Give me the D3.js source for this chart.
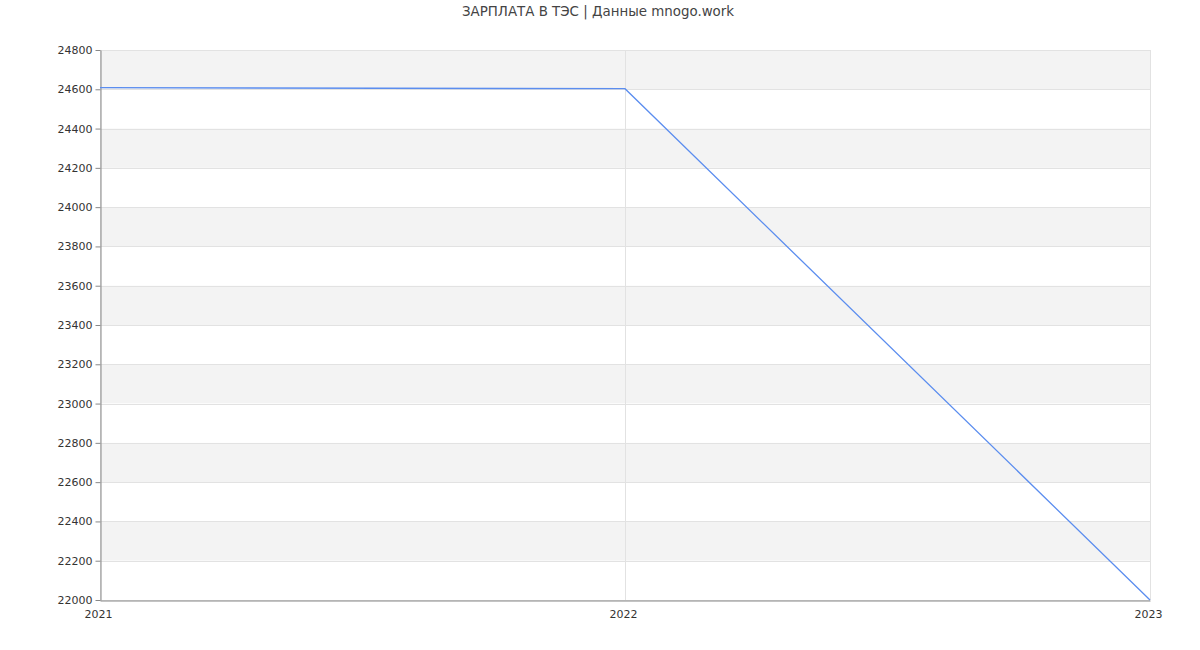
<!DOCTYPE html>
<html><head><meta charset="utf-8">
<script src="https://cdn.jsdelivr.net/npm/d3@7"></script>
<style>body{margin:0;background:#fff;font-family:"DejaVu Sans",sans-serif}</style>
</head><body><svg id="c" width="1200" height="650"></svg>
<script>
const years = [2021, 2022, 2023];
const salaries = [24608, 24603, 22000];
const yTicks = [22000,22200,22400,22600,22800,23000,23200,23400,23600,23800,24000,24200,24400,24600,24800];
const title = "ЗАРПЛАТА В ТЭС | Данные mnogo.work";

const svg = d3.select("#c");
const m = {l:100, r:50, t:50, b:50};
const W = 1200, H = 650;
const x = d3.scaleLinear().domain([2021, 2023]).range([m.l, W - m.r]);
const y = d3.scaleLinear().domain([22000, 24800]).range([H - m.b, m.t]);

const g = svg.append("g");
for (let i = 0; i < yTicks.length - 1; i++) {
  const hi = yTicks[yTicks.length - 1 - i], lo = yTicks[yTicks.length - 2 - i];
  g.append("rect").attr("x", m.l).attr("width", W - m.r - m.l)
    .attr("y", y(hi)).attr("height", y(lo) - y(hi))
    .attr("fill", i % 2 === 0 ? "#f3f3f3" : "#ffffff");
}
g.selectAll("line.h").data(yTicks).join("line")
  .attr("x1", m.l).attr("x2", W - m.r)
  .attr("y1", d => Math.round(y(d)) + 0.5).attr("y2", d => Math.round(y(d)) + 0.5)
  .attr("stroke", "#e2e2e2");
g.selectAll("line.v").data(years).join("line")
  .attr("y1", m.t).attr("y2", H - m.b)
  .attr("x1", d => Math.round(x(d)) + 0.5).attr("x2", d => Math.round(x(d)) + 0.5)
  .attr("stroke", "#e2e2e2");

const ya = svg.append("g").attr("transform", `translate(${m.l + 0.5},0)`)
  .call(d3.axisLeft(y).tickValues(yTicks).tickFormat(d3.format("d")).tickSize(5).tickSizeOuter(0));
ya.select(".domain").attr("stroke", "#888");
ya.selectAll(".tick line").attr("stroke", "#888");
ya.selectAll("text").attr("fill", "#333").style("font-size", "11px").style("font-family", "DejaVu Sans");

const xa = svg.append("g").attr("transform", `translate(0,${H - m.b + 0.5})`)
  .call(d3.axisBottom(x).tickValues(years).tickFormat(d3.format("d")).tickSize(0).tickSizeOuter(0).tickPadding(10));
xa.select(".domain").attr("stroke", "#888");
xa.selectAll("text").attr("fill", "#333").attr("dx", -2).style("font-size", "11px").style("font-family", "DejaVu Sans");

const data = years.map((d, i) => ({x: d, y: salaries[i]}));
svg.append("path").datum(data)
  .attr("fill", "none").attr("stroke", "#5b8def").attr("stroke-width", 1.3)
  .attr("d", d3.line().x(d => x(d.x)).y(d => y(d.y)));

svg.append("text").attr("x", 598).attr("y", 16).attr("text-anchor", "middle")
  .attr("fill", "#444").style("font-size", "13.4px").style("font-family", "DejaVu Sans").text(title);
</script></body></html>
